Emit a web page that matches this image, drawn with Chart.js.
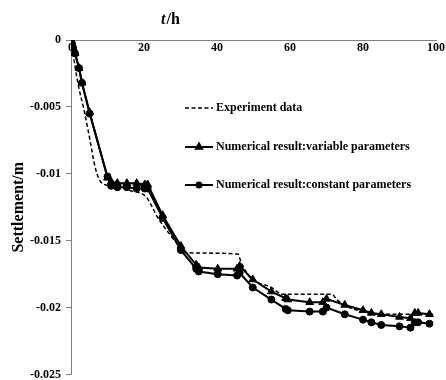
<!DOCTYPE html>
<html>
<head>
<meta charset="utf-8">
<script src="https://cdn.jsdelivr.net/npm/chart.js@4/dist/chart.umd.min.js"></script>
<style>
  html, body { margin: 0; padding: 0; background: #fff; }
  #wrap { width: 446px; height: 380px; }
</style>
</head>
<body>
<div id="wrap"><canvas id="myChart"></canvas></div>
<script>
// time (h) of the experiment curve and its settlement (m)
let expTimes = [0, 0.5, 1.8, 3.7, 4.8, 6.8, 8.5, 11.3, 16.8, 20.5, 22.3, 23.6, 27, 30, 31.5, 45.7, 46.6, 48.9, 54.9, 58, 71.5, 72.8, 75.5, 80, 84.6, 99.2];
let expValues = [0, -0.0009, -0.0031, -0.0054, -0.0069, -0.0097, -0.0107, -0.0109, -0.0113, -0.0117, -0.0125, -0.0132, -0.0145, -0.0155, -0.0159, -0.0160, -0.0166, -0.0177, -0.0185, -0.0190, -0.0190, -0.0194, -0.0199, -0.0203, -0.0205, -0.0205];

// time (h) of the numerical results
let numTimes = [0, 0.3, 0.6, 1.1, 2.2, 3, 5.1, 10, 11, 12.7, 15.3, 18, 20.2, 21, 25.1, 30.1, 34.3, 35, 40.2, 45.5, 46.2, 49.8, 54.9, 58.8, 59.4, 65.4, 69, 70, 75, 80, 82.3, 85, 90, 93, 94.2, 95.1, 98.2];
let variableValues = [0, -0.0003, -0.0006, -0.001, -0.0021, -0.0032, -0.0054, -0.0103, -0.0106, -0.0107, -0.0107, -0.0107, -0.0108, -0.0108, -0.0131, -0.0154, -0.0168, -0.0170, -0.0171, -0.0171, -0.0169, -0.0179, -0.0188, -0.0193, -0.0194, -0.0196, -0.0196, -0.01935, -0.0198, -0.0202, -0.0204, -0.0205, -0.0207, -0.0208, -0.0204, -0.0204, -0.0205];
let constantValues = [0, -0.0003, -0.0006, -0.001, -0.0021, -0.0032, -0.0055, -0.0102, -0.0109, -0.0110, -0.0110, -0.0111, -0.0111, -0.0111, -0.0133, -0.0157, -0.0171, -0.0173, -0.0175, -0.0176, -0.0174, -0.0185, -0.0194, -0.0201, -0.0202, -0.0203, -0.0203, -0.0200, -0.0205, -0.0209, -0.0211, -0.0213, -0.0214, -0.0215, -0.0211, -0.0211, -0.0212];

let seriesNames = [
  "Experiment data",
  "Numerical result:variable parameters",
  "Numerical result:constant parameters",
];
let xTicks = [0, 20, 40, 60, 80, 100];
let yTicks = [0, -0.005, -0.01, -0.015, -0.02, -0.025];

const serif = "'Liberation Serif', 'Times New Roman', serif";

function toPoints(xs, ys) {
  return xs.map((x, i) => ({ x: x, y: ys[i] }));
}

// x title (t/h) and the legend inside the plot
const extras = {
  id: "extras",
  afterDraw(chart) {
    const ctx = chart.ctx;
    ctx.save();
    ctx.fillStyle = "#000";
    ctx.textBaseline = "middle";
    ctx.textAlign = "left";
    ctx.font = "italic bold 16px " + serif;
    let tw = ctx.measureText("t").width;
    ctx.font = "bold 16px " + serif;
    let hw = ctx.measureText("/h").width;
    let tx = 170 - (tw + hw) / 2;
    ctx.font = "italic bold 16px " + serif;
    ctx.fillText("t", tx, 20);
    ctx.font = "bold 16px " + serif;
    ctx.fillText("/h", tx + tw + 1, 20);

    let rowsY = [108, 147, 185];
    chart.data.datasets.forEach((ds, i) => {
      let y = rowsY[i];
      ctx.strokeStyle = "#000";
      ctx.fillStyle = "#000";
      ctx.lineWidth = ds.borderWidth;
      ctx.setLineDash(ds.borderDash || []);
      ctx.beginPath();
      ctx.moveTo(185, y);
      ctx.lineTo(213, y);
      ctx.stroke();
      ctx.setLineDash([]);
      if (ds.pointRadius > 0) {
        Chart.helpers.drawPoint(ctx, {
          pointStyle: ds.pointStyle,
          radius: ds.pointRadius - 1,
          rotation: 0,
          borderWidth: 1,
        }, 199, y);
      }
      ctx.font = "bold 12px " + serif;
      ctx.fillText(ds.label, 216, y);
    });
    ctx.restore();
  },
};

new Chart("myChart", {
  type: "line",
  data: {
    datasets: [
      {
        label: seriesNames[0],
        data: toPoints(expTimes, expValues),
        borderColor: "#000",
        borderWidth: 1.5,
        borderDash: [4, 2.5],
        pointRadius: 0,
        cubicInterpolationMode: "monotone",
      },
      {
        label: seriesNames[1],
        data: toPoints(numTimes, variableValues),
        borderColor: "#000",
        backgroundColor: "#000",
        borderWidth: 2,
        pointStyle: "triangle",
        pointRadius: 4.5,
        pointBorderWidth: 1,
        tension: 0,
      },
      {
        label: seriesNames[2],
        data: toPoints(numTimes, constantValues),
        borderColor: "#000",
        backgroundColor: "#000",
        borderWidth: 2,
        pointStyle: "circle",
        pointRadius: 3.5,
        pointBorderWidth: 1,
        tension: 0,
      },
    ],
  },
  options: {
    responsive: true,
    maintainAspectRatio: false,
    animation: false,
    layout: { padding: { top: 40, right: 8, bottom: 5, left: 0 } },
    plugins: {
      legend: { display: false },
      tooltip: { enabled: false },
    },
    scales: {
      x: {
        type: "linear",
        position: { y: 0 },
        min: 0,
        max: 100,
        afterBuildTicks: (scale) => { scale.ticks = xTicks.map(v => ({ value: v })); },
        grid: { drawOnChartArea: false, drawTicks: false },
        border: { color: "#808080", width: 1 },
        ticks: {
          padding: 1,
          color: "#000",
          font: { family: serif, size: 12, weight: "bold" },
        },
      },
      y: {
        type: "linear",
        position: "left",
        min: -0.025,
        max: 0,
        afterBuildTicks: (scale) => { scale.ticks = yTicks.map(v => ({ value: v })); },
        afterFit: (scale) => {
          scale.width = 71;
          scale.paddingTop = 0;
          scale.paddingBottom = 0;
        },
        grid: { drawOnChartArea: false, tickLength: 5, color: "#808080" },
        border: { color: "#808080", width: 1 },
        ticks: {
          padding: 5,
          color: "#000",
          font: { family: serif, size: 12, weight: "bold" },
          callback: (v) => String(+Number(v).toFixed(3)),
        },
        title: {
          display: true,
          text: "Settlement/m",
          color: "#000",
          padding: { top: 9, bottom: 0 },
          font: { family: serif, size: 16, weight: "bold" },
        },
      },
    },
  },
  plugins: [extras],
});
</script>
</body>
</html>
